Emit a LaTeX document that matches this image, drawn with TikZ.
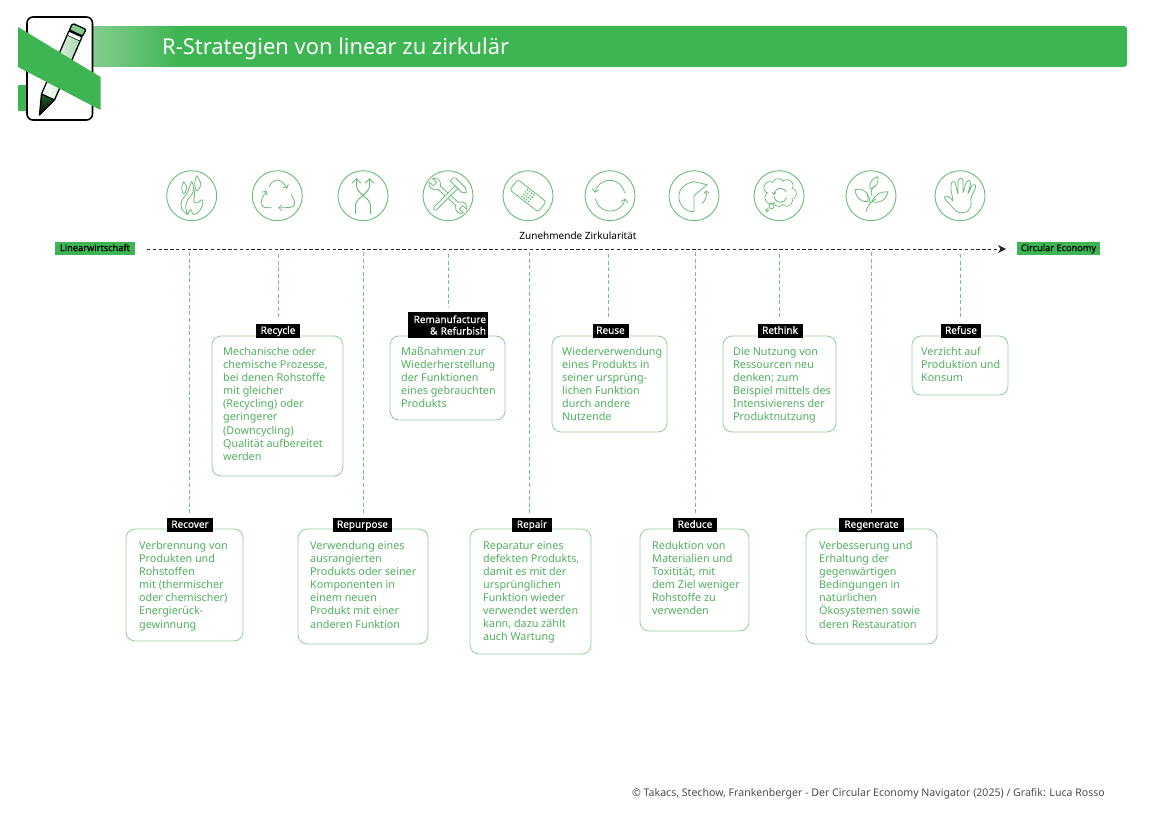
\documentclass[tikz,border=0pt]{standalone}
\usepackage{fontspec}
\setmainfont{Noto Sans}
\newfontfamily\heavyfont[FakeBold=0.6]{Noto Sans}
\newfontfamily\midfont[FakeBold=0.35]{Noto Sans}
\usetikzlibrary{arrows.meta,positioning,calc}
\definecolor{hgreen}{HTML}{3DB553}
\definecolor{lgreen}{HTML}{A8DBAE}
\definecolor{sgreen}{HTML}{86CD90}
\definecolor{tgreen}{HTML}{52AF60}
\definecolor{bgreen}{HTML}{93CF9A}
\definecolor{igreen}{HTML}{6CBB76}
\definecolor{cgreen}{HTML}{74C27E}
\tikzset{
  x=1pt,y=-1pt,
  desc/.style={draw=bgreen,line width=0.8pt,rounded corners=9pt,fill=white},
  desctext/.style={anchor=north west,align=left,text=tgreen,inner sep=0pt,font=\fontsize{10.8}{13.1}\selectfont},
  tagbase/.style={fill=black,text=white,inner sep=0pt},
  tag/.style={tagbase,text height=8pt,text depth=2.5pt,font=\midfont\fontsize{10}{11.5}\selectfont},
  conn/.style={draw=cgreen,line width=1.1pt,dash pattern=on 4pt off 2.6pt,shorten >=4pt},
  ring/.style={draw=igreen,line width=0.9pt},
  ic/.style={draw=igreen,line width=0.8pt,line cap=round,line join=round},
  ait/.style={fill=hgreen,text=black,inner sep=0pt,text height=7.5pt,text depth=2.3pt,font=\heavyfont\fontsize{9.2}{11}\selectfont},
  icfill/.style={draw=igreen,line width=0.8pt,fill=white,line join=round},
}
\begin{document}
\begin{tikzpicture}
\useasboundingbox (0,0) rectangle (1154,816);
% header
\shade[left color=sgreen,right color=hgreen] (90,26.6) rectangle (180,66.6);
\fill[hgreen,rounded corners=3pt] (175,26) -- (1127,26) -- (1127,67) -- (175,67) -- cycle;
\fill[hgreen] (175,26) rectangle (185,67);
\node[anchor=base west,text=white,inner sep=0pt,font=\fontsize{21.9}{24}\selectfont] (title) at (162,54.5) {R-Strategien von linear zu zirkulär};
\fill[hgreen] (18,85) rectangle (30,111);
\draw[black,line width=1.6pt,fill=white,rounded corners=6pt] (27,17) rectangle (92.5,120);
% pencil
\begin{scope}[line join=round,draw=black,line width=1.3pt]
\fill[sgreen] (72.5,23.5) -- (85.5,29.5) -- (82.5,35.5) -- (69.5,30) -- cycle;
\draw (74,24) -- (84,28.5) .. controls (85.5,29.2) and (85.8,30) .. (85.3,31) -- (82.5,36) -- (69.5,30) -- (71.7,25) .. controls (72.2,24) and (73,23.6) .. (74,24) -- cycle;
\draw (69,31) -- (82,37) -- (80,41.5) -- (67,35.5) -- cycle;
\shade[left color=white,right color=lgreen] (67,35.5) -- (80,41.5) -- (54.5,100) -- (41.5,94) -- cycle;
\draw (67,35.5) -- (41.5,94) (80,41.5) -- (54.5,100);
\shade[top color=black!45!hgreen,bottom color=black] (41.5,94) -- (54.5,100) -- (39.5,115) -- cycle;
\draw (41.5,94) -- (54.5,100) -- (39.5,115) -- cycle;
\end{scope}
\fill[hgreen] (18,27) -- (100.5,77) -- (100.5,110) -- (18,67) -- cycle;
% icons
\foreach \x in {191.7,277.3,363,448,528,610,694,779,871,960}{\draw[ring] (\x,195.7) circle[radius=25];}
% 1 flame
\begin{scope}[shift={(191.7,195.7)},ic]
\draw plot[smooth,tension=.7] coordinates {(-4,19) (-10,13) (-10,5) (-5,-2) (-2,-9) (0,-14) (2,-7) (0,-1) (-4,4) (-6,11) (-4,19)};
\draw plot[smooth,tension=.7] coordinates {(-4,19) (-1,14) (2,19) (8,15) (11,8) (10,4) (6,7) (2,6) (3,-1) (2,-7)};
\draw plot[smooth,tension=.7] coordinates {(-8,-14) (-10,-8) (-8,-2) (-5,-8) (-8,-14)};
\draw plot[smooth,tension=.7] coordinates {(5,-20) (3,-13) (5,-5) (9,-10) (8,-15) (5,-20)};
\end{scope}
% 2 recycle
\begin{scope}[shift={(277.3,195.7)},ic]
\draw[-{Straight Barb[length=3pt,width=6pt]}] (-8,-9) .. controls (-4,-18) and (4,-18) .. (10,-7);
\draw[{Straight Barb[length=3pt,width=6pt]}-] (-11,-5) .. controls (-14,0) and (-17,6) .. (-16,8) .. controls (-15,12) and (-12,12) .. (-6,12);
\draw[-{Straight Barb[length=3pt,width=6pt]}] (14,-1) .. controls (17,4) and (18,7) .. (17,9) .. controls (16,12) and (13,12) .. (1,12);
\end{scope}
% 3 swap
\begin{scope}[shift={(363,195.7)},ic]
\draw[line width=1pt] (-7.5,18) -- (-7.5,10) .. controls (-7.5,2) and (6.5,-2) .. (6.5,-10) -- (6.5,-17);
\draw[line width=1pt] (7.5,18) -- (7.5,10) .. controls (7.5,2) and (-6.5,-2) .. (-6.5,-10) -- (-6.5,-17);
\draw (-11,-12.5) -- (-6.5,-17) -- (-2,-12.5);
\draw (2,-12.5) -- (6.5,-17) -- (11,-12.5);
\end{scope}
% 4 tools
\begin{scope}[shift={(448,195.7)}]
\begin{scope}[rotate=-42]
\draw[icfill] (-23,-2.5) -- (-17.5,-2.5) -- (-17.5,2.5) -- (-23,2.5) .. controls (-21,7) and (-15,7) .. (-12,2) -- (12,2) .. controls (15,7) and (21,7) .. (23,2.5) -- (17.5,2.5) -- (17.5,-2.5) -- (23,-2.5) .. controls (21,-7) and (15,-7) .. (12,-2) -- (-12,-2) .. controls (-15,-7) and (-21,-7) .. (-23,-2.5) -- cycle;
\end{scope}
\begin{scope}[rotate=45]
\draw[icfill,rounded corners=1.5pt] (-20,-1.8) rectangle (13,1.8);
\draw[icfill] (12,-8.5) -- (16,-9) -- (18,-7) -- (18,7) -- (15,11) -- (12,7) -- cycle;
\end{scope}
\end{scope}
% 5 bandage
\begin{scope}[shift={(528,195.7)},ic]
\draw[rotate=-38,rounded corners=2.5pt] (-18,-6.5) rectangle (18,6.5);
\foreach \a in {-1.5,-.5,.5,1.5}{\foreach \b in {-1.5,-.5,.5,1.5}{\fill[hgreen,rotate=-38] (\a*2.8,\b*2.8) circle[radius=.9];}}
\end{scope}
% 6 cycle
\begin{scope}[shift={(610,195.7)},ic]
\draw[-{Straight Barb[length=3pt,width=7pt]}] (14.5,-3) arc[start angle=-10,end angle=-170,radius=15];
\draw[-{Straight Barb[length=3pt,width=7pt]}] (-14.5,3) arc[start angle=170,end angle=10,radius=15];
\end{scope}
% 7 pie
\begin{scope}[shift={(694,195.7)},ic]
\draw (13,-11) -- (0,0) -- (0,16);
\draw (0,16) .. controls (-10,16) and (-16,8) .. (-15,-1) .. controls (-14,-9) and (-7,-13) .. (0,-14) -- (13,-11);
\draw[-{Straight Barb[length=2pt,width=5pt]}] (8,8) .. controls (12,4) and (13,0) .. (12,-5);
\end{scope}
% 8 cloud
\begin{scope}[shift={(779,195.7)},ic]
\draw (-9,-8) circle[radius=6] (-1,-11) circle[radius=6] (8,-10) circle[radius=6] (12,-2) circle[radius=5.5] (8,5) circle[radius=5.5] (0,6) circle[radius=5] (-8,2) circle[radius=6];
\fill[white] (-9,-8) circle[radius=5.6] (-1,-11) circle[radius=5.6] (8,-10) circle[radius=5.6] (12,-2) circle[radius=5.1] (8,5) circle[radius=5.1] (0,6) circle[radius=4.6] (-8,2) circle[radius=5.6] (1,-3) circle[radius=8];
\draw (-7.5,10.5) circle[radius=2.6];
\draw (-12,14.5) circle[radius=1.6];
\draw[-{Straight Barb[length=2pt,width=4pt]}] (7,-4) arc[start angle=-30,end angle=-180,radius=6.5];
\draw (-5,0) arc[start angle=180,end angle=20,radius=6.5];
\end{scope}
% 9 plant
\begin{scope}[shift={(871,195.7)},ic]
\draw (-5,16) .. controls (-3,8) and (1,6) .. (5,3);
\draw (-1,8) .. controls (-1,3) and (-2,0) .. (-4,-2);
\draw (1,0) .. controls (-1,-4) and (1,-8) .. (4,-10);
\draw (-16,-6) .. controls (-8,-8) and (-2,-4) .. (-3,6) .. controls (-11,6) and (-15,2) .. (-16,-6) -- cycle;
\draw (17,-4) .. controls (10,-4) and (4,-2) .. (1,6) .. controls (8,8) and (15,5) .. (17,-4) -- cycle;
\draw (7,-19) .. controls (2,-18) and (-2,-14) .. (-1,-7) .. controls (5,-8) and (8,-13) .. (7,-19) -- cycle;
\end{scope}
% 10 hand
\begin{scope}[shift={(960,195.7)},ic]
\draw plot[smooth,tension=.4] coordinates {(-4,15.5) (-9,10) (-15,3.5) (-15,0.5) (-11,1) (-7,5) (-9,-6) (-8.5,-13) (-5.5,-14) (-3.5,-8) (-2,-2) (-2,-15) (1,-17.5) (3,-15) (3,-3) (6,-13) (9,-15.5) (10.5,-12) (8,-2) (12,-10) (15,-11) (15.5,-8) (11,2) (11,10) (7,16) (0,17) (-4,15.5)};
\end{scope}
% axis
\node[ait,minimum width=80pt,minimum height=13pt] (lin) at (95,248.5) {Linearwirtschaft};
\node[ait,minimum width=83pt,minimum height=13pt] (ce) at (1058.5,248.5) {Circular Economy};
\coordinate (as) at (147,249);
\coordinate (ae) at (1006,249);
\draw[black!85,line width=1pt,dash pattern=on 3.4pt off 2.4pt,-{Stealth[length=8pt,width=8pt,inset=2.5pt]}] (as) -- (ae);
\node[anchor=base,text=black,inner sep=0pt,font=\fontsize{10}{12}\selectfont] (zz) at (578,239) {Zunehmende Zirkularität};
% upper row
\draw[desc] (212,336) rectangle (343,476);
\node[desctext] (t2) at (223,347) {Mechanische oder\\chemische Prozesse,\\bei denen Rohstoffe\\mit gleicher\\(Recycling) oder\\geringerer\\(Downcycling)\\Qualität aufbereitet\\werden};
\node[tag,minimum width=44pt,minimum height=14pt] (l2) at (278,331) {Recycle};
\draw[desc] (390,336) rectangle (505,420);
\node[desctext] (t4) at (401,347) {Maßnahmen zur\\Wiederherstellung\\der Funktionen\\eines gebrauchten\\Produkts};
\node[tagbase,minimum width=80pt,minimum height=26pt,text width=76pt,align=right,font=\midfont\fontsize{10}{11.5}\selectfont] (l4) at (448,325) {Remanufacture\\\& Refurbish};
\draw[desc] (552,336) rectangle (667,432);
\node[desctext] (t6) at (562,347) {Wiederverwendung\\eines Produkts in\\seiner ursprüng-\\lichen Funktion\\durch andere\\Nutzende};
\node[tag,minimum width=36pt,minimum height=14pt] (l6) at (610.5,331) {Reuse};
\draw[desc] (723,336) rectangle (836,432);
\node[desctext] (t8) at (733,347) {Die Nutzung von\\Ressourcen neu\\denken; zum\\Beispiel mittels des\\Intensivierens der\\Produktnutzung};
\node[tag,minimum width=45pt,minimum height=14pt] (l8) at (780,331) {Rethink};
\draw[desc] (912,336) rectangle (1008,395);
\node[desctext] (t10) at (921,347) {Verzicht auf\\Produktion und\\Konsum};
\node[tag,minimum width=40pt,minimum height=14pt] (l10) at (961,331) {Refuse};
% lower row
\draw[desc] (126,529) rectangle (243,641);
\node[desctext] (t1) at (139,541) {Verbrennung von\\Produkten und\\Rohstoffen\\mit (thermischer\\oder chemischer)\\Energierück-\\gewinnung};
\node[tag,minimum width=46pt,minimum height=14pt] (l1) at (190,525) {Recover};
\draw[desc] (298,529) rectangle (428,644);
\node[desctext] (t3) at (310,541) {Verwendung eines\\ausrangierten\\Produkts oder seiner\\Komponenten in\\einem neuen\\Produkt mit einer\\anderen Funktion};
\node[tag,minimum width=59pt,minimum height=14pt] (l3) at (362.5,525) {Repurpose};
\draw[desc] (470,529) rectangle (591,654);
\node[desctext] (t5) at (483,541) {Reparatur eines\\defekten Produkts,\\damit es mit der\\ursprünglichen\\Funktion wieder\\verwendet werden\\kann, dazu zählt\\auch Wartung};
\node[tag,minimum width=40pt,minimum height=14pt] (l5) at (532,525) {Repair};
\draw[desc] (640,529) rectangle (749,631);
\node[desctext] (t7) at (652,541) {Reduktion von\\Materialien und\\Toxitität, mit\\dem Ziel weniger\\Rohstoffe zu\\verwenden};
\node[tag,minimum width=44pt,minimum height=14pt] (l7) at (695,525) {Reduce};
\draw[desc] (806,529) rectangle (937,644);
\node[desctext] (t9) at (819,541) {Verbesserung und\\Erhaltung der\\gegenwärtigen\\Bedingungen in\\natürlichen\\Ökosystemen sowie\\deren Restauration};
\node[tag,minimum width=65pt,minimum height=14pt] (l9) at (871.5,525) {Regenerate};
% connectors
\foreach \n/\x/\s in {l1/189.4/252,l2/278.4/254,l3/363.4/252,l4/448.4/254,l5/529.9/252,l6/608.4/254,l7/695.4/252,l8/779.4/254,l9/871.4/252,l10/960.4/254}{
  \coordinate (s\n) at (\x,\s);
  \draw[conn] (s\n) -- (s\n |- \n.north);
}
\node[anchor=base east,text=black!70,inner sep=0pt,font=\fontsize{10.57}{13}\selectfont] (foot) at (1105,796) {© Takacs, Stechow, Frankenberger - Der Circular Economy Navigator (2025) / Grafik: Luca Rosso};
\end{tikzpicture}
\end{document}
